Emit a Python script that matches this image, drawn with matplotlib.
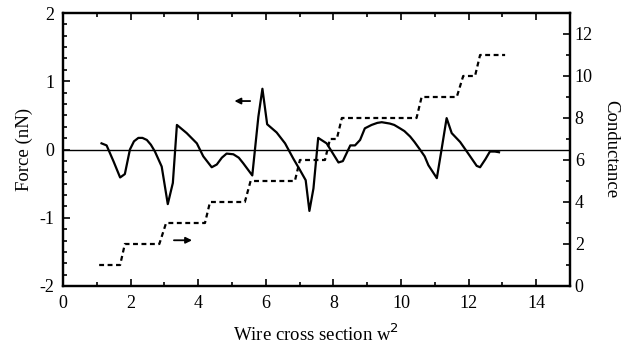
import matplotlib
matplotlib.use("Agg")
import matplotlib.pyplot as plt
from matplotlib.ticker import MultipleLocator

plt.rcParams['font.family'] = ['Liberation Serif', 'DejaVu Serif']
plt.rcParams['axes.unicode_minus'] = False

# Force curve (left axis)
force_x = [1.14, 1.29, 1.50, 1.69, 1.83, 1.98, 2.10, 2.23, 2.35, 2.48, 2.60, 2.72, 2.92, 3.10,
           3.25, 3.37, 3.66, 3.96, 4.15, 4.40, 4.55, 4.70, 4.84, 5.04, 5.20, 5.33, 5.45, 5.60,
           5.78, 5.90, 6.04, 6.32, 6.57, 6.81, 7.01, 7.18, 7.29, 7.41, 7.55, 7.80, 8.15, 8.28,
           8.50, 8.64, 8.79, 8.93, 9.13, 9.30, 9.43, 9.67, 9.80, 9.97, 10.10, 10.27, 10.40,
           10.56, 10.70, 10.81, 11.06, 11.20, 11.35, 11.50, 11.75, 11.99, 12.24, 12.34, 12.50,
           12.63, 12.78, 12.90]
force_y = [0.09, 0.06, -0.18, -0.41, -0.36, 0.00, 0.12, 0.17, 0.17, 0.14, 0.07, -0.03, -0.25, -0.80,
           -0.49, 0.36, 0.24, 0.09, -0.10, -0.26, -0.22, -0.12, -0.06, -0.07, -0.12, -0.20, -0.28, -0.38,
           0.48, 0.89, 0.37, 0.25, 0.09, -0.13, -0.30, -0.45, -0.90, -0.57, 0.17, 0.09, -0.19, -0.17,
           0.06, 0.06, 0.14, 0.31, 0.36, 0.39, 0.40, 0.38, 0.36, 0.31, 0.27, 0.19, 0.11,
           0.00, -0.10, -0.23, -0.42, 0.00, 0.46, 0.24, 0.11, -0.06, -0.24, -0.26, -0.14,
           -0.03, -0.03, -0.04]

# Conductance staircase (right axis)
cond_x = [1.07, 1.69, 1.83, 2.85, 3.05, 4.20, 4.35, 5.38, 5.55, 6.86, 7.01, 7.75, 7.90,
          8.10, 8.25, 10.46, 10.61, 11.65, 11.84, 12.19, 12.34, 13.08]
cond_y = [1, 1, 2, 2, 3, 3, 4, 4, 5, 5, 6, 6, 7, 7, 8, 8, 9, 9, 10, 10, 11, 11]

fig = plt.figure(figsize=(6.41, 3.5), dpi=100)
ax = fig.add_axes([63/641, 1 - 286/350, (570 - 63)/641, (286 - 13)/350])
ax2 = ax.twinx()

ax.axhline(0, color='black', lw=1.0, zorder=1)
ax.plot(force_x, force_y, color='black', lw=1.6, zorder=3)
ax2.plot(cond_x, cond_y, color='black', lw=1.6, ls=(0, (2.2, 1.6)))

ax.set_xlim(0, 15)
ax.set_ylim(-2, 2)
ax2.set_ylim(0, 13)

ax.xaxis.set_major_locator(MultipleLocator(2))
ax.xaxis.set_minor_locator(MultipleLocator(1))
ax.yaxis.set_major_locator(MultipleLocator(1))
ax.yaxis.set_minor_locator(MultipleLocator(1/6))
ax2.yaxis.set_major_locator(MultipleLocator(2))
ax2.yaxis.set_minor_locator(MultipleLocator(1))

ax.tick_params(which='both', direction='in', top=True, right=False, labelsize=13, width=1.2)
ax.tick_params(axis='x', which='both', pad=6.5)
ax.tick_params(axis='y', which='both', pad=6)
ax.tick_params(which='major', length=5)
ax.tick_params(which='minor', length=3)
ax2.tick_params(which='both', direction='in', labelsize=13, width=1.2, pad=3.5)
ax2.tick_params(which='major', length=5)
ax2.tick_params(which='minor', length=3)

for a in (ax, ax2):
    for s in a.spines.values():
        s.set_linewidth(1.6)

ax.set_xlabel('Wire cross section w$^2$', fontsize=13.5, labelpad=8)
ax.set_ylabel('Force (nN)', fontsize=13.5, labelpad=5)
ax2.set_ylabel('Conductance', fontsize=13.5, rotation=270, labelpad=19)

ax.annotate('', xy=(4.99, 0.71), xytext=(5.62, 0.71),
            arrowprops=dict(arrowstyle='-|>', color='black', lw=1.3, mutation_scale=9))
ax.annotate('', xy=(3.90, -1.33), xytext=(3.20, -1.33),
            arrowprops=dict(arrowstyle='-|>', color='black', lw=1.3, mutation_scale=9))

fig.savefig('out.png', dpi=100)
